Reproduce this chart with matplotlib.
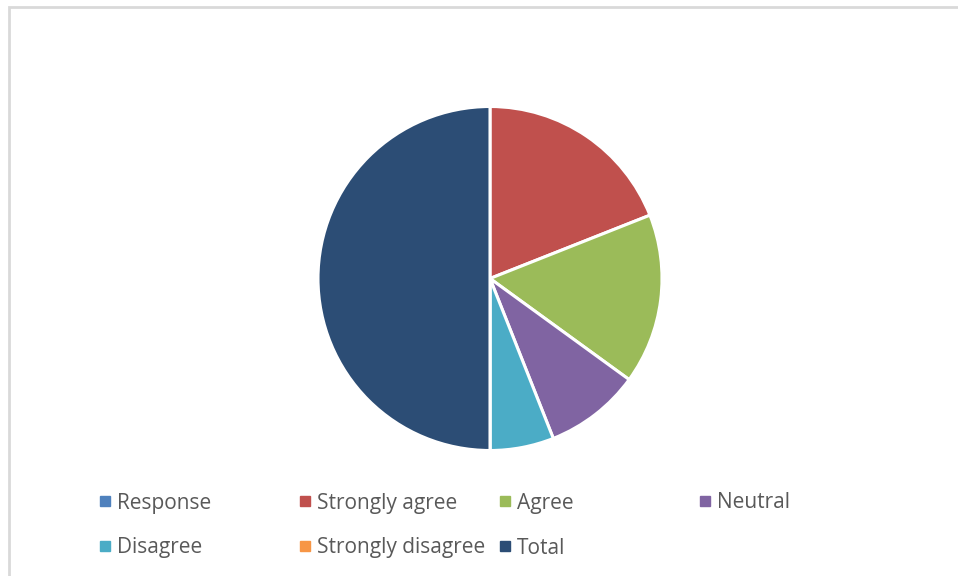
import matplotlib.pyplot as plt
from matplotlib.patches import Rectangle
from matplotlib.lines import Line2D

# Survey responses (Total is drawn as its own slice, like the source sheet)
categories = ["Response", "Strongly agree", "Agree", "Neutral",
              "Disagree", "Strongly disagree", "Total"]
values = [0, 38, 32, 18, 12, 0, 100]
colors = ["#4F81BD", "#C0504D", "#9BBB59", "#8064A2",
          "#4BACC6", "#F79646", "#2C4D75"]

W, H = 958, 576
fig = plt.figure(figsize=(W / 100, H / 100), dpi=100)
fig.patch.set_facecolor("white")

# Chart frame (light grey border, cut off at right/bottom)
fig.patches.append(Rectangle((9 / W, -0.05), 1.1, 1 - 7 / H + 0.05,
                             transform=fig.transFigure, fill=False,
                             edgecolor="#d9d9d9", linewidth=2.0))

# Pie: centre (490, 278), radius ~172 px
cx, cy, r = 490, 278.5, 172
ax = fig.add_axes([(cx - r) / W, (H - cy - r) / H, 2 * r / W, 2 * r / H])
ax.pie(values, colors=colors, startangle=90, counterclock=False,
       radius=1.0, wedgeprops=dict(edgecolor="white", linewidth=2.2))
ax.set_xlim(-1, 1)
ax.set_ylim(-1, 1)
ax.set_aspect("equal")
ax.axis("off")

# Legend laid out row-wise in evenly spaced columns, like Excel
col_x = [100, 300, 500, 700]
row_y = [503, 548]
for i, (name, col) in enumerate(zip(categories, colors)):
    row, colnum = divmod(i, 4)
    handle = Line2D([], [], marker="s", linestyle="none", markersize=7,
                    markerfacecolor=col, markeredgecolor=col)
    leg = fig.legend([handle], [name], loc="center left",
                     bbox_to_anchor=(col_x[colnum] / W, 1 - row_y[row] / H),
                     frameon=False, handlelength=0.5, handletextpad=0.3,
                     borderpad=0, borderaxespad=0,
                     prop={"family": "Open Sans", "size": 15})
    for t in leg.get_texts():
        t.set_color("#595959")

plt.savefig("out.png", dpi=100)
plt.close()
